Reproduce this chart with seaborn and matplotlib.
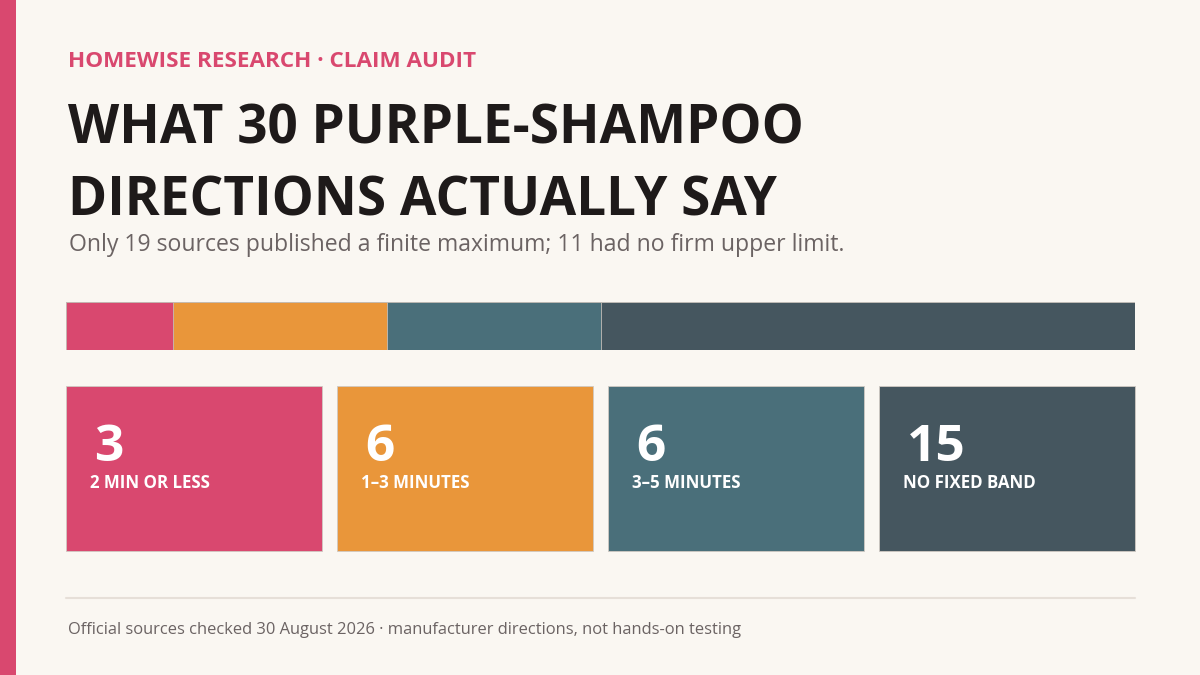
import matplotlib
matplotlib.use("Agg")
import matplotlib.pyplot as plt
import seaborn as sns
from matplotlib.patches import Rectangle

# data
bands = ["2 MIN OR LESS", "1–3 MINUTES", "3–5 MINUTES", "NO FIXED BAND"]
counts = [3, 6, 6, 15]
colors = ["#D9486F", "#E9963A", "#4A6F7A", "#45565F"]

kicker = "HOMEWISE RESEARCH · CLAIM AUDIT"
title_lines = ["WHAT 30 PURPLE-SHAMPOO", "DIRECTIONS ACTUALLY SAY"]
subtitle = "Only 19 sources published a finite maximum; 11 had no firm upper limit."
footer = "Official sources checked 30 August 2026 · manufacturer directions, not hands-on testing"

BG = "#FAF7F2"
W, H = 1200, 675

sns.set_style("white")
plt.rcParams["font.family"] = ["Open Sans", "DejaVu Sans"]


def fx(x):
    return x / W


def fy(y):
    return 1 - y / H


fig = plt.figure(figsize=(12, 6.75), dpi=100)
fig.patch.set_facecolor(BG)

# left accent strip
fig.patches.append(Rectangle((0, 0), fx(16), 1, transform=fig.transFigure,
                             facecolor=colors[0], edgecolor="none"))

# header text
fig.text(fx(68), fy(67), kicker, color=colors[0], fontsize=16.2,
         fontweight="bold", va="baseline")
fig.text(fx(68), fy(143), title_lines[0], color="#1E1A1A", fontsize=38.2,
         fontweight="bold", va="baseline")
fig.text(fx(68), fy(215), title_lines[1], color="#1E1A1A", fontsize=38.2,
         fontweight="bold", va="baseline")
fig.text(fx(69), fy(251), subtitle, color="#6B6363", fontsize=16.6,
         va="baseline")

# stacked share bar
ax = fig.add_axes([fx(66), fy(350), fx(1069), 48 / H])
total = sum(counts)
cum = [sum(counts[:i + 1]) for i in range(len(counts))]
for i in reversed(range(len(counts))):
    sns.barplot(x=[cum[i]], y=["all"], orient="h", color=colors[i],
                width=1, saturation=1, edgecolor="#C4BEB8", linewidth=0.6,
                ax=ax)
ax.set_xlim(0, total)
ax.set_ylim(0.5, -0.5)
ax.set_axis_off()

# cards
card_w, gap = 256, 15
for i, (band, n, c) in enumerate(zip(bands, counts, colors)):
    x0 = 66 + i * (card_w + gap)
    fig.patches.append(Rectangle((fx(x0), fy(551)), fx(card_w), 165 / H,
                                 transform=fig.transFigure, facecolor=c,
                                 edgecolor="#CFC9C3", linewidth=0.6))
    fig.text(fx(x0 + 28), fy(461), str(n), color="white", fontsize=37,
             fontweight="bold", va="baseline")
    fig.text(fx(x0 + 24), fy(488), band, color="white", fontsize=12.2,
             fontweight="bold", va="baseline")

# footer rule + note
fig.add_artist(plt.Line2D([fx(66), fx(1135)], [fy(598), fy(598)],
                          transform=fig.transFigure, color="#E6DFD8",
                          linewidth=1.5))
fig.text(fx(68), fy(634), footer, color="#6B6363", fontsize=11.9,
         va="baseline")

fig.savefig("out.png", dpi=100, facecolor=BG)
